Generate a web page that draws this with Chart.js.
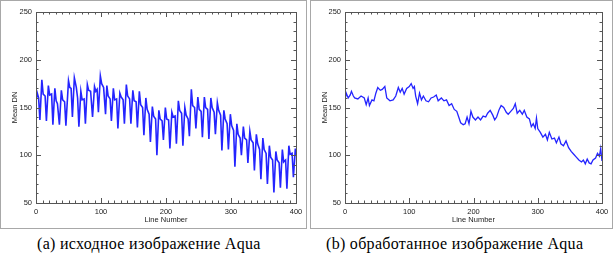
<!DOCTYPE html>
<html lang="ru">
<head>
    <meta charset="UTF-8">
    <title>Mean DN - Aqua</title>
    <script src="https://cdn.jsdelivr.net/npm/chart.js"></script>
    <style>
        body { margin: 0; background: #fff; width: 616px; height: 260px; position: relative; overflow: hidden; }
        .box { position: absolute; top: 0; border: 1px solid #a8a8a8; }
        .wrap { position: absolute; top: 0; }
        .caption { position: absolute; top: 235px; font-family: "Liberation Serif", serif; font-size: 16px; letter-spacing: 0.3px; color: #000; white-space: nowrap; }
    </style>
</head>
<body>
    <div class="box" style="left:0; width:305px; height:227px;"></div>
    <div class="box" style="left:310px; width:301px; height:227px;"></div>
    <div class="wrap" style="left:0; width:307px; height:230px;"><canvas id="rawChart"></canvas></div>
    <div class="wrap" style="left:311px; width:302px; height:230px;"><canvas id="procChart"></canvas></div>
    <div class="caption" style="left:37px;">(a) исходное изображение Aqua</div>
    <div class="caption" style="left:326px;">(b) обработанное изображение Aqua</div>

    <script>
        // (a) raw image: line number / mean DN
        const rawLines = [0, 2, 4, 6, 9, 11, 14, 16, 19, 21, 24, 26, 29, 31, 33, 36, 39, 41, 44, 46, 50,
            52, 54, 56, 59, 62, 64, 66, 69, 71, 74, 76, 79, 81, 84, 87, 90, 92, 94, 96, 99,
            101, 104, 107, 109, 111, 114, 116, 119, 121, 124, 126, 129, 131, 134, 136, 139,
            141, 144, 146, 149, 151, 154, 156, 159, 161, 164, 166, 169, 171, 174, 176, 179,
            181, 184, 186, 189, 191, 194, 196, 199, 201, 204, 206, 209, 211, 214, 216, 219,
            221, 224, 226, 229, 231, 234, 236, 239, 241, 244, 246, 249, 251, 254, 256, 259,
            261, 264, 266, 269, 271, 274, 276, 279, 281, 284, 286, 289, 291, 294, 296, 299,
            301, 304, 306, 309, 311, 314, 316, 319, 321, 324, 326, 329, 331, 334, 336, 339,
            341, 344, 346, 349, 351, 354, 356, 359, 361, 364, 366, 369, 371, 374, 376, 379,
            381, 384, 386, 389, 391, 394, 396, 399, 400];
        const rawMean = [158, 165, 160, 137, 179, 164, 162, 136, 173, 163, 164, 132, 170, 157, 154, 132, 168, 158, 156, 131, 178,
            171, 170, 140, 181, 171, 160, 130, 167, 158, 159, 133, 174, 168, 167, 140, 172, 167, 169, 145, 183,
            175, 171, 143, 173, 162, 159, 136, 170, 158, 159, 128, 165, 161, 158, 133, 174,
            162, 159, 133, 168, 157, 156, 129, 167, 153, 150, 121, 160, 148, 143, 114, 151,
            141, 138, 100, 147, 138, 136, 116, 150, 138, 137, 107, 145, 140, 141, 112, 157,
            147, 144, 110, 150, 142, 138, 120, 169, 152, 150, 128, 161, 148, 146, 119, 161,
            150, 148, 117, 160, 150, 145, 122, 155, 147, 142, 105, 147, 138, 133, 106, 143,
            131, 126, 88, 133, 122, 118, 100, 130, 118, 116, 92, 125, 116, 113, 84, 122,
            112, 106, 75, 118, 106, 102, 70, 110, 98, 95, 61, 104, 95, 92, 66, 106,
            93, 95, 65, 110, 101, 102, 77, 107, 100];

        // (b) processed image
        const procLines = [0, 2, 5, 8, 10, 13, 15, 20, 25, 30, 33, 36, 38, 42, 45, 48, 51, 55, 58, 62,
            65, 70, 75, 79, 83, 86, 89, 92, 96, 100, 103, 106, 108, 110, 113, 116, 119, 122, 126, 130,
            134, 138, 142, 145, 150, 154, 158, 162, 166, 170, 174, 177, 180, 184, 187, 190, 193, 196, 199, 203,
            207, 211, 215, 219, 222, 226, 230, 233, 236, 240, 243, 247, 251, 254, 258, 262, 265, 268, 272, 276,
            279, 283, 287, 290, 293, 296, 298, 300, 304, 308, 312, 315, 318, 322, 326, 329, 333, 336, 340, 344,
            348, 352, 356, 360, 364, 368, 371, 374, 377, 380, 383, 386, 390, 393, 396, 398, 400];
        const procMean = [158, 165, 160, 163, 167, 162, 160, 159, 162, 160, 153, 160, 152, 158, 157, 165, 171, 168, 169, 172,
            160, 157, 158, 162, 171, 166, 170, 164, 170, 172, 175, 170, 172, 162, 154, 165, 158, 162, 157, 156,
            160, 161, 163, 157, 160, 157, 158, 152, 154, 148, 146, 140, 134, 132, 133, 140, 133, 146, 140, 137,
            140, 137, 141, 140, 144, 147, 142, 137, 140, 148, 152, 150, 145, 143, 146, 149, 154, 144, 147, 143,
            147, 140, 138, 130, 133, 128, 139, 128, 124, 119, 122, 116, 124, 117, 118, 113, 119, 112, 110, 115,
            108, 104, 101, 98, 95, 93, 95, 91, 96, 92, 91, 95, 97, 102, 99, 107, 94];

        const xTicks = [0, 100, 200, 300, 400];
        const yTicks = [50, 100, 150, 200, 250];
        const lineBlue = '#2424ff';

        // inward major/minor ticks on all four sides, plus the frame
        const frameTicks = {
            id: 'frameTicks',
            afterDatasetsDraw(chart) {
                const { ctx, chartArea: a, scales: { x, y } } = chart;
                ctx.save();
                ctx.strokeStyle = '#555';
                ctx.lineWidth = 1;
                ctx.strokeRect(Math.round(a.left) + 0.5, Math.round(a.top) + 0.5,
                    Math.round(a.right - a.left), Math.round(a.bottom - a.top));
                ctx.beginPath();
                for (let v = x.min; v <= x.max; v += 10) {
                    const px = Math.round(x.getPixelForValue(v)) + 0.5;
                    const len = xTicks.includes(v) ? 5 : 2.5;
                    ctx.moveTo(px, a.bottom); ctx.lineTo(px, a.bottom - len);
                    ctx.moveTo(px, a.top); ctx.lineTo(px, a.top + len);
                }
                for (let v = y.min; v <= y.max; v += 10) {
                    const py = Math.round(y.getPixelForValue(v)) + 0.5;
                    const len = yTicks.includes(v) ? 5 : 2.5;
                    ctx.moveTo(a.left, py); ctx.lineTo(a.left + len, py);
                    ctx.moveTo(a.right, py); ctx.lineTo(a.right - len, py);
                }
                ctx.stroke();
                ctx.restore();
            }
        };

        function makeChart(id, xs, ys, yWidth, rightPad, yTitlePad, lw) {
            const tickFont = { family: 'Liberation Sans', size: 7.5 };
            return new Chart(document.getElementById(id), {
                type: 'line',
                data: {
                    datasets: [{
                        data: xs.map((x, i) => ({ x: x, y: ys[i] })),
                        borderColor: lineBlue,
                        borderWidth: lw,
                        pointRadius: 0,
                        tension: 0,
                        fill: false
                    }]
                },
                options: {
                    responsive: true,
                    maintainAspectRatio: false,
                    animation: false,
                    layout: { padding: { top: 12, right: rightPad, bottom: 0, left: 0 } },
                    plugins: { legend: { display: false }, tooltip: { enabled: false } },
                    scales: {
                        x: {
                            type: 'linear', min: 0, max: 400,
                            grid: { display: false, drawTicks: false },
                            border: { display: false },
                            afterBuildTicks: s => { s.ticks = xTicks.map(v => ({ value: v })); },
                            afterFit: s => { s.height = 27; },
                            ticks: { padding: 4, color: '#222', font: tickFont, maxRotation: 0 },
                            title: { display: true, text: 'Line Number', color: '#222', font: tickFont, padding: { top: 0, bottom: 6 } }
                        },
                        y: {
                            min: 50, max: 250,
                            grid: { display: false, drawTicks: false },
                            border: { display: false },
                            afterBuildTicks: s => { s.ticks = yTicks.map(v => ({ value: v })); },
                            afterFit: s => { s.width = yWidth; },
                            ticks: { padding: 4, color: '#222', font: tickFont },
                            title: { display: true, text: 'Mean DN', color: '#222', font: tickFont, padding: { top: yTitlePad, bottom: 0 } }
                        }
                    }
                },
                plugins: [frameTicks]
            });
        }

        makeChart('rawChart', rawLines, rawMean, 36, 11, 10, 1.6);
        makeChart('procChart', procLines, procMean, 34, 11, 9, 1.3);
    </script>
</body>
</html>
